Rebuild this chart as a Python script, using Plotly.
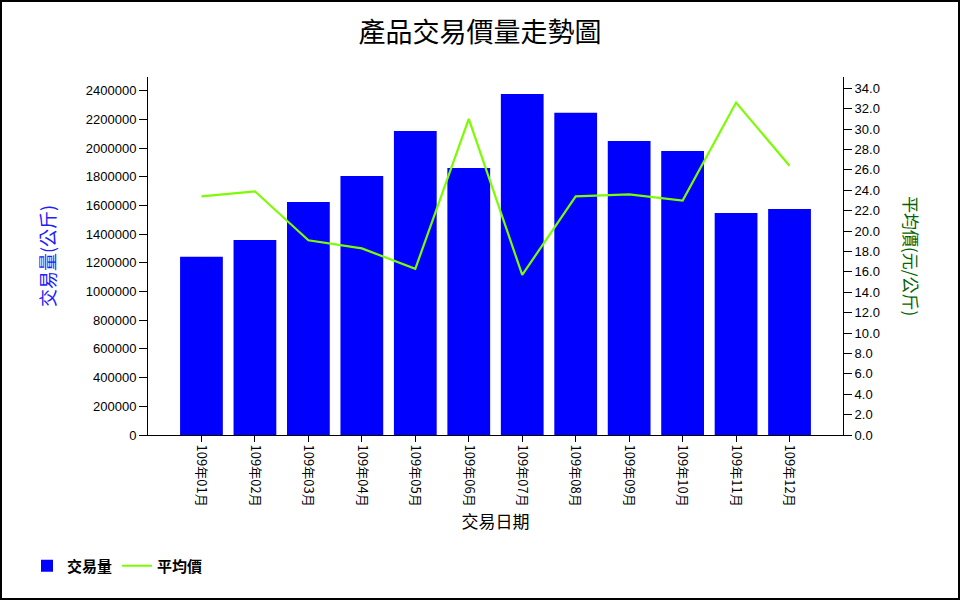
import plotly.graph_objects as go

months = ["109年01月", "109年02月", "109年03月", "109年04月", "109年05月", "109年06月",
          "109年07月", "109年08月", "109年09月", "109年10月", "109年11月", "109年12月"]
volume = [1243000, 1359000, 1624000, 1805000, 2119000, 1861000,
          2377000, 2245000, 2049000, 1980000, 1547000, 1575000]
avg_price = [23.4, 23.9, 19.1, 18.3, 16.3, 31.0, 15.7, 23.4, 23.6, 23.0, 32.6, 26.4]

W, H = 960, 600
L, R, T, B = 148, 843, 77, 435

fig = go.Figure()
fig.add_trace(go.Bar(x=months, y=volume, name="交易量", marker_color="#0000FF",
                     marker_line_width=0, width=0.8, yaxis="y"))
fig.add_trace(go.Scatter(x=months, y=avg_price, name="平均價", mode="lines",
                         line=dict(color="#7CFC00", width=2.2), yaxis="y2"))

axis_font = dict(family="Liberation Sans, Arial", size=13, color="#000")

def px2paper_x(X):
    return (X - L) / (R - L)

def px2paper_y(Y):
    return (B - Y) / (B - T)

fig.update_layout(
    width=W, height=H,
    margin=dict(l=L, r=W - R, t=T, b=H - B),
    paper_bgcolor="white", plot_bgcolor="white",
    title=dict(text="產品交易價量走勢圖", x=0.5, xanchor="center", y=1 - 33 / H, yanchor="middle",
               xref="container", yref="container",
               font=dict(family="Noto Sans CJK TC", size=27, color="#000")),
    xaxis=dict(type="category", range=[-1, 12], showline=True, linecolor="#000", linewidth=1,
               ticks="outside", ticklen=6, tickcolor="#000", tickangle=90,
               tickfont=dict(family="Noto Sans CJK TC", size=13, color="#000"),
               showgrid=False, zeroline=False,
               title=dict(text="交易日期", standoff=10,
                          font=dict(family="Noto Sans CJK TC", size=17, color="#000"))),
    yaxis=dict(range=[0, 2495000], tickmode="array",
               tickvals=[i * 200000 for i in range(13)],
               ticktext=[str(i * 200000) for i in range(13)],
               showline=True, linecolor="#000", linewidth=1, ticks="outside", ticklen=8,
               tickcolor="#000", tickfont=axis_font, showgrid=False, zeroline=False),
    yaxis2=dict(range=[0, 35.11], overlaying="y", side="right", tickmode="array",
                tickvals=[i * 2 for i in range(18)],
                ticktext=[f"{i * 2:.1f}" for i in range(18)],
                showline=True, linecolor="#000", linewidth=1, ticks="outside", ticklen=8,
                tickcolor="#000", tickfont=axis_font, showgrid=False, zeroline=False),
    legend=dict(orientation="h", xref="container", yref="container",
                x=27 / W, y=1 - 566 / H, xanchor="left", yanchor="middle",
                font=dict(family="Noto Sans CJK TC", size=15, color="#000", weight="bold"),
                bgcolor="rgba(0,0,0,0)"),
    showlegend=True,
    bargap=0.2,
)

# axis titles
fig.add_annotation(text="交易量(公斤)", xref="paper", yref="paper",
                   x=px2paper_x(47), y=px2paper_y(256), xanchor="center", yanchor="middle",
                   textangle=-90, showarrow=False,
                   font=dict(family="Noto Sans CJK TC", size=18, color="#2020FF"))
fig.add_annotation(text="平均價(元/公斤)", xref="paper", yref="paper",
                   x=px2paper_x(912), y=px2paper_y(256), xanchor="center", yanchor="middle",
                   textangle=90, showarrow=False,
                   font=dict(family="Noto Sans CJK TC", size=17, color="#006400"))

# outer border
fig.add_shape(type="rect", xref="paper", yref="paper",
              x0=px2paper_x(1), x1=px2paper_x(959), y0=px2paper_y(599), y1=px2paper_y(1),
              line=dict(color="#000", width=2), fillcolor="rgba(0,0,0,0)", layer="above")

fig.write_html("out.html")
